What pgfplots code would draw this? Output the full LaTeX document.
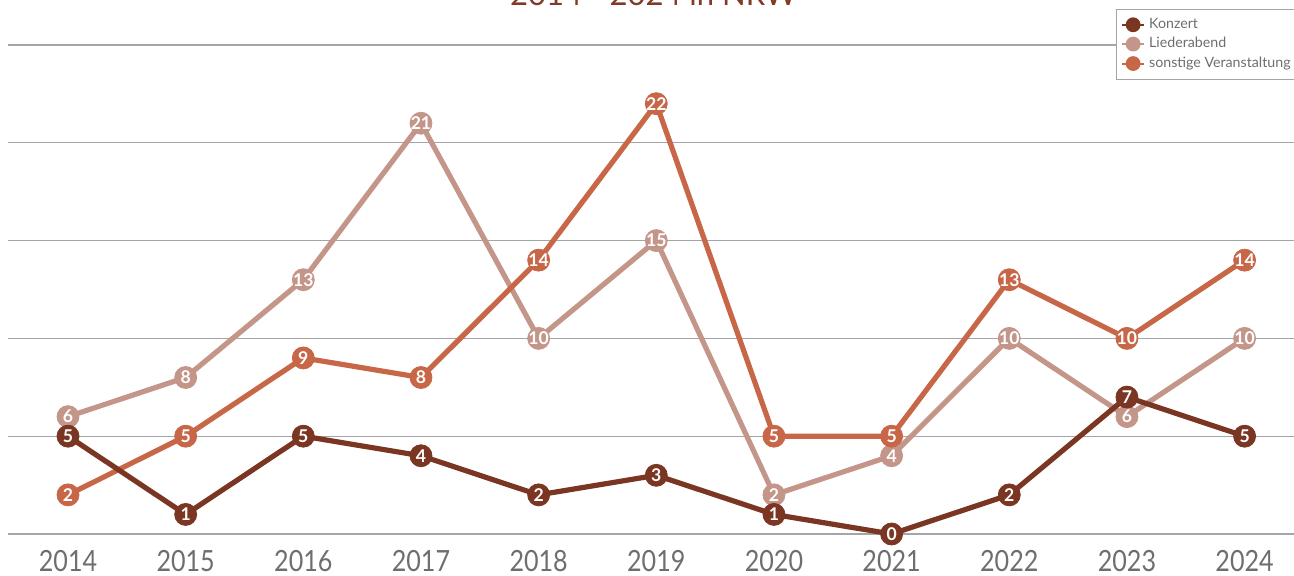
\documentclass[border=0pt]{standalone}
\usepackage{pgfplots}
\pgfplotsset{compat=1.18}
\usepackage{pgfplotstable}
\usepackage{graphicx}
\usepackage{fontspec}
\setmainfont{Lato}
\definecolor{konz}{RGB}{122,54,35}
\definecolor{lied}{RGB}{196,150,138}
\definecolor{sonst}{RGB}{200,102,72}
\definecolor{titlec}{RGB}{128,58,38}
\definecolor{tickc}{RGB}{110,110,112}
\definecolor{gridc}{RGB}{165,165,168}
\newcommand{\yr}[1]{\scalebox{0.86}[1]{#1}}
\pgfplotstableread{
x K L S
0 5 6 2
1 1 8 5
2 5 13 9
3 4 21 8
4 2 10 14
5 3 15 22
6 1 2 5
7 0 4 5
8 2 10 13
9 7 6 10
10 5 10 14
}\data
\begin{document}
\begin{tikzpicture}
\useasboundingbox (-4pt,-21pt) rectangle (643pt,267pt);
\begin{axis}[
 at={(0,0)}, anchor=south west,
 scale only axis, width=643pt, height=244.5pt,
 xmin=-0.51, xmax=10.42, ymin=0, ymax=25,
 clip=false,
 axis line style={draw=none},
 ytick={0,5,10,15,20,25}, yticklabels={}, ytick style={draw=none},
 ymajorgrids, major grid style={gridc, line width=0.6pt},
 xtick={0,1,2,3,4,5,6,7,8,9,10},
 xticklabels={\yr{2014},\yr{2015},\yr{2016},\yr{2017},\yr{2018},\yr{2019},\yr{2020},\yr{2021},\yr{2022},\yr{2023},\yr{2024}},
 xtick style={draw=none},
 xtick pos=bottom, tick align=inside,
 xticklabel style={anchor=base, yshift=-19pt, text=tickc, font=\fontsize{14.6}{16}\selectfont},
 extra x ticks={0.5,1.5,2.5,3.5,4.5,5.5,6.5,7.5,8.5,9.5},
 extra x tick labels={},
 extra x tick style={major tick length=6pt, tick style={draw=gridc, line width=0.6pt}},
 /pgf/number format/assume math mode=true,
 every axis plot/.append style={line width=2.6pt, mark=*, mark size=5.5pt},
 nodes near coords,
 every node near coord/.append style={anchor=center, text=white, font=\bfseries\fontsize{8.8}{10}\selectfont, inner sep=0pt},
 legend style={at={(1,1)}, anchor=north east, yshift=18.2pt, xshift=3pt, draw=gridc, fill=white,
   font=\fontsize{7.1}{8.5}\selectfont, text=tickc, inner xsep=2.5pt, inner ysep=2.6pt, row sep=-1pt,
   /tikz/every even column/.append style={column sep=2.5pt}},
 legend cell align=left,
 legend image code/.code={\draw[#1, line width=1pt, mark=*, mark size=3.2pt, mark repeat=2, mark phase=2] plot coordinates {(0pt,0pt)(5.5pt,0pt)(11pt,0pt)};},
]
\addlegendimage{konz}
\addlegendentry{Konzert}
\addlegendimage{lied}
\addlegendentry{Liederabend}
\addlegendimage{sonst}
\addlegendentry{sonstige Veranstaltung}
\addplot[color=lied, mark options={solid, fill=lied, draw=lied, line width=0.4pt}, forget plot] table[x=x,y=L]{\data};
\addplot[color=sonst, mark options={solid, fill=sonst, draw=sonst, line width=0.4pt}, forget plot] table[x=x,y=S]{\data};
\addplot[color=konz, mark options={solid, fill=konz, draw=konz, line width=0.4pt}, forget plot] table[x=x,y=K]{\data};
\node[anchor=base, text=titlec, font=\fontsize{15.5}{18}\selectfont, yshift=19.5pt] at (rel axis cs:0.502,1) {2014 - 2024 in NRW};
\end{axis}
\end{tikzpicture}
\end{document}
